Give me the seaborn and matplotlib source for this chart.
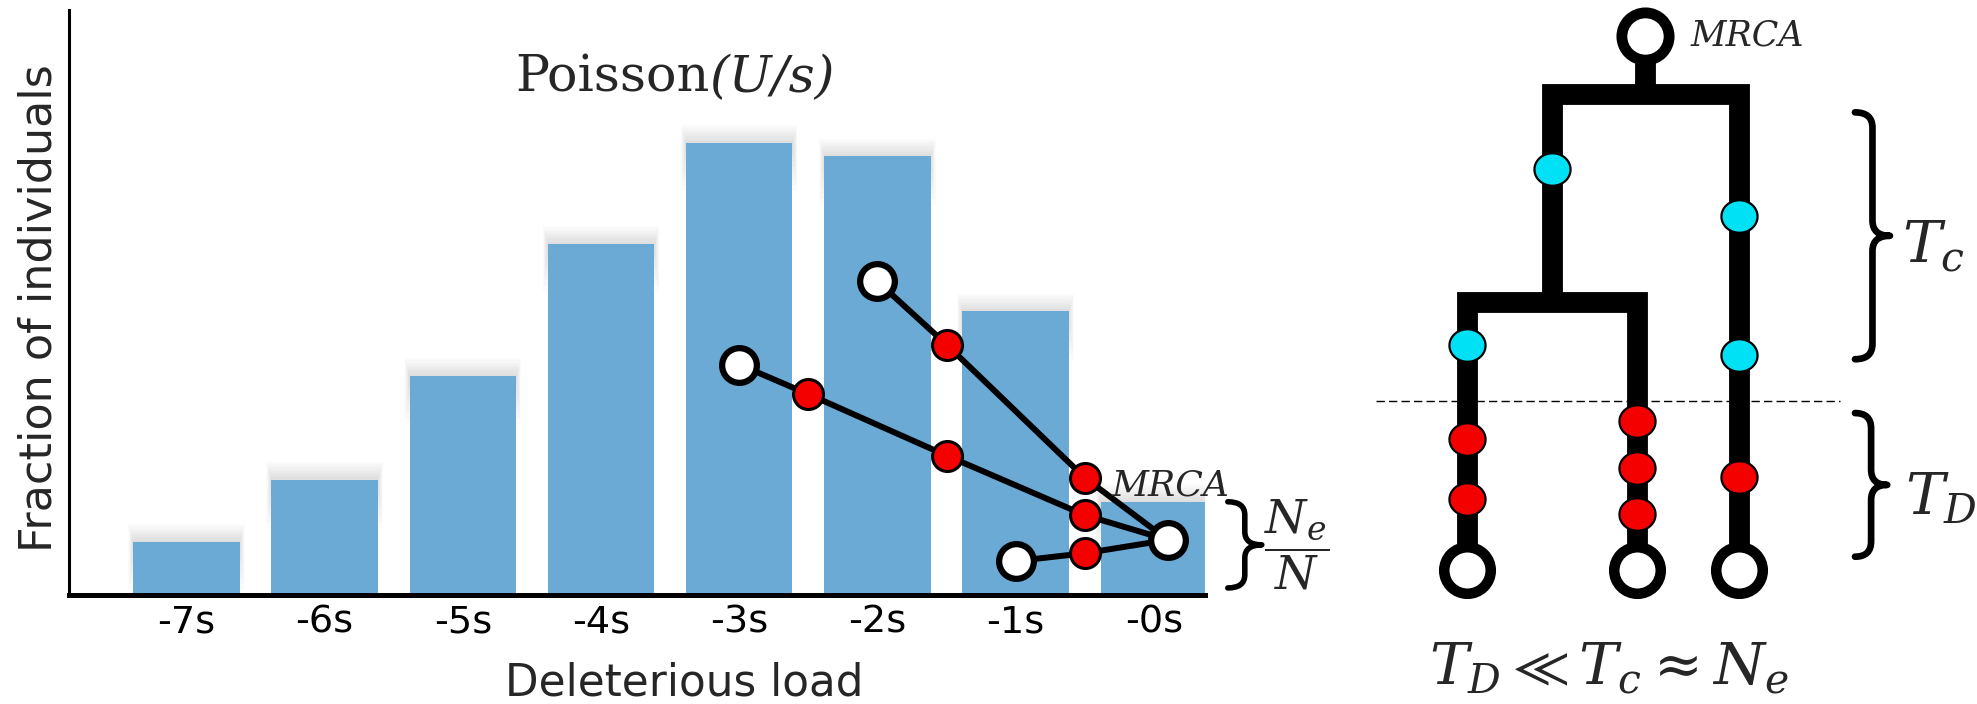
import numpy as np
import matplotlib
matplotlib.use("Agg")
import matplotlib.pyplot as plt
from matplotlib.path import Path
from matplotlib.patches import PathPatch
import seaborn as sns

# ---- Distribution of deleterious load (Poisson with mean U/s) ----
loads = [-7, -6, -5, -4, -3, -2, -1, 0]
tick_labels = ["-7s", "-6s", "-5s", "-4s", "-3s", "-2s", "-1s", "-0s"]
fractions = [0.0263, 0.0572, 0.1086, 0.1740, 0.2240, 0.2174, 0.1405, 0.0462]

# ---- Lineages traced back to the MRCA in the least-loaded class ----
mrca_x, mrca_y = 0.1, 0.0273
lineage_a_x = [-2.0, -1.5, -0.5]
lineage_a_y = [0.1554, 0.1241, 0.0581]
lineage_b_x = [-3.0, -2.5, -1.5, -0.5]
lineage_b_y = [0.1142, 0.0995, 0.0691, 0.0396]
lineage_c_x = [-1.0, -0.5]
lineage_c_y = [0.0168, 0.0207]
lineages = [(lineage_a_x, lineage_a_y), (lineage_b_x, lineage_b_y),
            (lineage_c_x, lineage_c_y)]

# ---- Genealogy of three sampled individuals ----
leaf_x = [0.0, 1.0, 1.6]
inner_x = 0.5          # common ancestor of the first two leaves
split_inner = 1.579
split_root = 2.807
root_x = 1.05
root_t = 3.147
neutral_x = [0.5, 1.6, 0.0, 1.6]
neutral_t = [2.362, 2.089, 1.327, 1.270]
delet_x = [0.0, 0.0, 1.0, 1.0, 1.0, 1.6]
delet_t = [0.775, 0.418, 0.881, 0.603, 0.331, 0.548]
td_cutoff = 0.997
tc_span = (1.243, 2.697)
td_span = (0.080, 0.926)

BAR = "#6caad6"
RED = "#f50000"
CYAN = "#00e1f5"
BAR_WIDTH = 0.77

sns.set_style("white")
plt.rcParams["font.family"] = ["DejaVu Sans"]
plt.rcParams["mathtext.fontset"] = "dejavuserif"

W, H = 1977, 704
fig = plt.figure(figsize=(W / 100, H / 100), dpi=100)


def curly_brace(ax, x0, y0, y1, width, curl, lw):
    xm = x0 + 0.5 * width
    yc = 0.5 * (y0 + y1)
    verts = [(x0, y1), (xm, y1), (xm, y1 - curl),
             (xm, yc + curl),
             (xm, yc), (x0 + width, yc),
             (xm, yc), (xm, yc - curl),
             (xm, y0 + curl),
             (xm, y0), (x0, y0)]
    codes = [Path.MOVETO, Path.CURVE3, Path.CURVE3, Path.LINETO,
             Path.CURVE3, Path.CURVE3, Path.CURVE3, Path.CURVE3,
             Path.LINETO, Path.CURVE3, Path.CURVE3]
    ax.add_patch(PathPatch(Path(verts, codes), fill=False, lw=lw,
                           ec="black", capstyle="round", joinstyle="round",
                           clip_on=False, zorder=5))


# ================= Left: load distribution =================
ax = fig.add_axes([69 / W, 1 - 595 / H, (1205 - 69) / W, (595 - 10) / H])

# soft shadow around the top of each bar
heights = np.array(fractions)
for k in range(1, 9):
    ax.bar(loads, 0.0011 * k + 0.003 * k, bottom=heights - 0.003 * k,
           width=BAR_WIDTH + 0.009 * k, color="black", alpha=0.014,
           linewidth=0, zorder=0.5)

sns.barplot(x=loads, y=fractions, native_scale=True, width=BAR_WIDTH,
            color=BAR, saturation=1, errorbar=None, linewidth=0, ax=ax,
            zorder=1)
ax.set_xlim(-7.85, 0.37)
ax.set_ylim(0, 0.2899)
ax.set_xticks(loads)
ax.set_xticklabels(tick_labels)
ax.set_yticks([])
ax.tick_params(axis="x", direction="in", length=8, width=1.4, pad=7,
               labelsize=27.5, bottom=True, colors="black")
for side in ("top", "right"):
    ax.spines[side].set_visible(False)
ax.spines["left"].set_linewidth(2.2)
ax.spines["bottom"].set_linewidth(3.6)
ax.spines["left"].set_color("black")
ax.spines["bottom"].set_color("black")
ax.set_xlabel("")
ax.set_ylabel("")

ax.text(0.542, (595 - 696) / 585, "Deleterious load", transform=ax.transAxes,
        ha="center", va="baseline", fontsize=31.5)
ax.text((52 - 69) / 1136, 0.49, "Fraction of individuals",
        transform=ax.transAxes, rotation=90, rotation_mode="anchor",
        ha="center", va="baseline", fontsize=32)

title = ax.text(-4.62, 0.2494, "Poisson", family="DejaVu Serif",
                fontsize=36.5, ha="left", va="baseline")
ax.annotate("(U/s)", xy=(1, 0), xycoords=title, ha="left", va="bottom",
            family="DejaVu Serif", style="italic", fontsize=36.5)

for xs, ys in lineages:
    ax.plot(xs + [mrca_x], ys + [mrca_y], color="black", lw=4.3, zorder=3,
            solid_capstyle="round")
    ax.plot(xs[1:], ys[1:], "o", ms=21.6, mfc=RED, mec="black", mew=2.2,
            zorder=4)
    ax.plot(xs[:1], ys[:1], "o", ms=25, mfc="white", mec="black", mew=4.5,
            zorder=4)
ax.plot([mrca_x], [mrca_y], "o", ms=25, mfc="white", mec="black", mew=4.5,
        zorder=5)
ax.text(-0.305, 0.0545, "MRCA", family="DejaVu Serif", style="italic",
        fontsize=26, ha="left", va="center", zorder=6)

curly_brace(ax, 0.535, 0.0035, fractions[-1], 0.246, 0.0065, 4.0)
ax.text(1.034, 0.0248, r"$\dfrac{N_e}{N}$", fontsize=34, ha="center",
        va="center", clip_on=False)

# ================= Right: genealogy =================
tx0 = 1365
tax = fig.add_axes([tx0 / W, 0, (W - tx0) / W, 1])
x_hi = (W - 1467) / 169.8
tax.set_xlim(-0.6, x_hi)
tax.set_ylim((570.3 - H) / 169.8, 570.3 / 169.8)
tax.axis("off")

branch = dict(color="black", lw=15, solid_joinstyle="miter",
              solid_capstyle="butt", zorder=2)
tax.plot([leaf_x[0], leaf_x[0], leaf_x[1], leaf_x[1]],
         [0, split_inner, split_inner, 0], **branch)
tax.plot([inner_x, inner_x, leaf_x[2], leaf_x[2]],
         [split_inner, split_root, split_root, 0], **branch)
tax.plot([root_x, root_x], [split_root, root_t], **branch)

tax.axhline(td_cutoff, xmin=(-0.536 + 0.6) / (x_hi + 0.6),
            xmax=(2.197 + 0.6) / (x_hi + 0.6),
            color="black", lw=1.0, dashes=(6, 3), zorder=1)

theta = np.linspace(0, 2 * np.pi, 73)
ellipse = Path(np.column_stack([np.cos(theta), 0.9 * np.sin(theta)]),
               closed=True)
tax.plot(neutral_x, neutral_t, linestyle="none", marker=ellipse, ms=26,
         mfc=CYAN, mec="black", mew=1.6, zorder=3)
tax.plot(delet_x, delet_t, linestyle="none", marker=ellipse, ms=26,
         mfc=RED, mec="black", mew=1.6, zorder=3)

tax.plot(leaf_x, [0, 0, 0], "o", ms=33.5, mfc="white", mec="black",
         mew=7.6, zorder=4)
tax.plot([root_x], [root_t], "o", ms=34, mfc="white", mec="black",
         mew=7.8, zorder=4)
tax.text(1.318, root_t, "MRCA", family="DejaVu Serif", style="italic",
         fontsize=25, ha="left", va="center")

curly_brace(tax, 2.285, tc_span[0], tc_span[1], 0.206, 0.09, 4.8)
curly_brace(tax, 2.285, td_span[0], td_span[1], 0.19, 0.09, 4.8)
tax.text(2.562, 1.812, r"$T_c$", fontsize=42, ha="left", va="baseline")
tax.text(2.577, 0.332, r"$T_D$", fontsize=42, ha="left", va="baseline")
tax.text(0.835, -0.674, r"$T_D \ll T_c \approx N_e$", fontsize=42,
         ha="center", va="baseline")

fig.savefig("out.png", dpi=100)
